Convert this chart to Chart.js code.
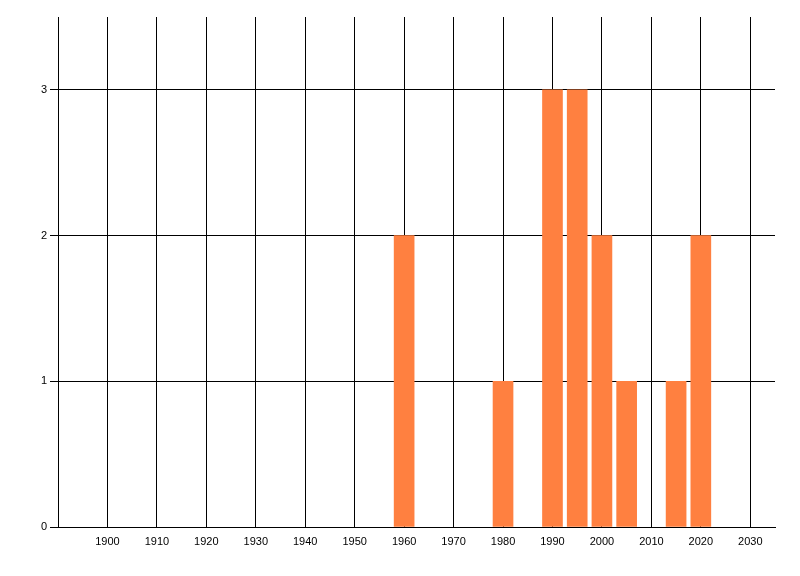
<!DOCTYPE html>
<html>
<head>
<meta charset="utf-8">
<script src="https://cdn.jsdelivr.net/npm/chart.js@4/dist/chart.umd.min.js"></script>
<style>
html,body{margin:0;padding:0;background:#fff;}
#wrap{width:800px;height:576px;position:relative;}
</style>
</head>
<body>
<div id="wrap"><canvas id="c" width="800" height="576"></canvas></div>
<script>
const years = [1960, 1980, 1990, 1995, 2000, 2005, 2015, 2020];
const counts = [2, 1, 3, 3, 2, 1, 1, 2];
const xTicks = [1900, 1910, 1920, 1930, 1940, 1950, 1960, 1970, 1980, 1990, 2000, 2010, 2020, 2030];
const yTicks = [0, 1, 2, 3];
const xMin = 1890, xMax = 2035, yMin = 0, yMax = 3.5;

const font = {family: "'Liberation Sans', 'DejaVu Sans', sans-serif", size: 11};

new Chart(document.getElementById('c'), {
  type: 'bar',
  data: {
    datasets: [{
      data: years.map((y, i) => ({x: y, y: counts[i]})),
      backgroundColor: 'rgb(255,128,64)',
      borderWidth: 0,
      barThickness: 20
    }]
  },
  options: {
    responsive: false,
    animation: false,
    layout: {padding: {top: 17, right: 25, left: 0, bottom: 0}},
    plugins: {legend: {display: false}, tooltip: {enabled: false}},
    scales: {
      x: {
        type: 'linear',
        offset: false,
        min: xMin, max: xMax,
        afterBuildTicks: (s) => { s.ticks = xTicks.map(v => ({value: v})); },
        afterFit: (s) => { s.height = 49; },
        grid: {offset: false, color: '#000', lineWidth: 1, tickLength: 8, tickColor: 'rgba(0,0,0,0)', z: -1},
        border: {color: '#000', width: 1},
        ticks: {color: '#000', font: font, padding: 0, maxRotation: 0, autoSkip: false, callback: (v) => String(v)}
      },
      y: {
        min: yMin, max: yMax,
        afterBuildTicks: (s) => { s.ticks = yTicks.map(v => ({value: v})); },
        afterFit: (s) => { s.width = 58; },
        grid: {color: '#000', lineWidth: 1, tickLength: 8, tickColor: '#000', z: -1},
        border: {color: '#000', width: 1},
        ticks: {color: '#000', font: font, padding: 3, callback: (v) => String(v)}
      }
    }
  }
});
</script>
</body>
</html>
